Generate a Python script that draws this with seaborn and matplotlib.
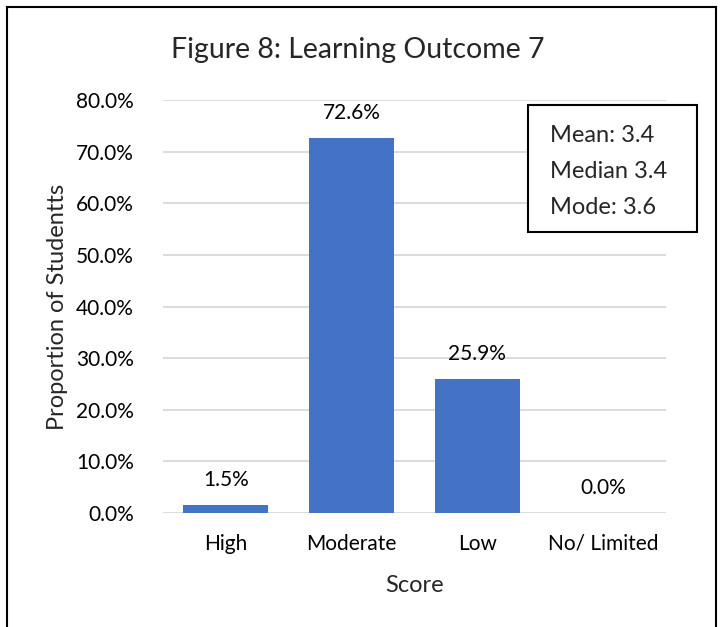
import matplotlib
matplotlib.use("Agg")
import matplotlib.pyplot as plt
import seaborn as sns
import pandas as pd
from matplotlib.patches import Rectangle
from matplotlib.ticker import PercentFormatter

categories = ["High", "Moderate", "Low", "No/ Limited"]
values = [1.5, 72.6, 25.9, 0.0]
yticks = [0, 10, 20, 30, 40, 50, 60, 70, 80]
stats_lines = ["Mean: 3.4", "Median 3.4", "Mode: 3.6"]

sns.set_theme(style="white")
plt.rcParams["font.family"] = ["Lato", "DejaVu Sans"]

df = pd.DataFrame({"Score": categories, "Proportion": values})

W, H = 721, 627
L, R, T, B = 163, 666, 100, 513
fig = plt.figure(figsize=(W / 100, H / 100), dpi=100)
ax = fig.add_axes([L / W, 1 - B / H, (R - L) / W, (B - T) / H])

sns.barplot(data=df, x="Score", y="Proportion", color="#4472C4", width=0.675,
            saturation=1, ax=ax, zorder=3, linewidth=0)

ax.set_xlim(-0.5, len(categories) - 0.5)
ax.set_ylim(0, 80)
ax.set_yticks(yticks)
ax.yaxis.set_major_formatter(PercentFormatter(decimals=1))
ax.grid(axis="y", color="#D9D9D9", linewidth=1.3, zorder=0)
ax.set_axisbelow(True)
for s in ax.spines.values():
    s.set_visible(False)
ax.tick_params(axis="both", length=0, labelsize=15, colors="#000000")
ax.tick_params(axis="y", pad=21)
ax.tick_params(axis="x", pad=22)
for lab in ax.get_xticklabels():
    lab.set_va("center")

for i, v in enumerate(values):
    ax.text(i, v + 4.85, f"{v:.1f}%", ha="center", va="center", fontsize=15, color="black")

ax.set_xlabel("Score", fontsize=17)
ax.set_ylabel("Proportion of Studentts", fontsize=17)
ax.xaxis.set_label_coords(0.5, (B - 585) / (B - T))
ax.yaxis.set_label_coords((57 - L) / (R - L), (B - 307) / (B - T))
ax.xaxis.label.set_va("center")
ax.yaxis.label.set_va("center")

fig.text(358 / W, 1 - 50 / H, "Figure 8: Learning Outcome 7", ha="center", va="center", fontsize=20.5)

# stats box
fig.patches.append(Rectangle((528 / W, 1 - 232 / H), (697 - 528) / W, (232 - 105) / H,
                             transform=fig.transFigure, fill=True, facecolor="white",
                             edgecolor="black", linewidth=1.5, zorder=5))
for k, line in enumerate(stats_lines):
    fig.text(550 / W, 1 - (135 + k * 36) / H, line, ha="left", va="center", fontsize=17, zorder=6)

# outer border
fig.patches.append(Rectangle((7 / W, -0.05), (716 - 7) / W, (1 - 7 / H) + 0.05,
                             transform=fig.transFigure, fill=False,
                             edgecolor="black", linewidth=1.5, zorder=10))

fig.savefig("out.png", dpi=100)
